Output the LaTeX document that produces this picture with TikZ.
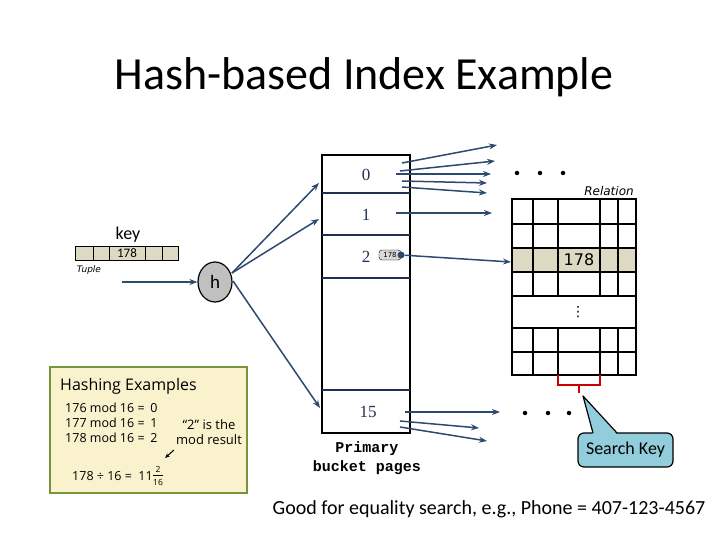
\documentclass[tikz,border=0pt]{standalone}
\usepackage{fontspec}
\setmainfont{Carlito}
\newfontfamily\serifnum{Liberation Serif}
\newfontfamily\monof{Liberation Mono}
\newfontfamily\verd{DejaVu Sans}
\newfontfamily\hashf{Open Sans}
\usetikzlibrary{arrows.meta,shapes.geometric}
\definecolor{arrowblue}{RGB}{44,74,112}
\definecolor{navy}{RGB}{31,48,80}
\definecolor{beige}{RGB}{221,217,195}
\definecolor{hgray}{RGB}{192,192,192}
\definecolor{hashfill}{RGB}{250,241,205}
\definecolor{hashborder}{RGB}{119,147,60}
\definecolor{callblue}{RGB}{146,205,220}
\definecolor{bracered}{RGB}{204,0,0}
\tikzset{
  arr/.style={draw=arrowblue, line width=1.5pt, -{Stealth[length=8pt,width=6pt]}},
  tbl/.style={draw=black, line width=1.5pt},
  bnum/.style={font=\serifnum\fontsize{17}{20}\selectfont, text=navy, inner sep=0pt},
  hline/.style={font=\hashf\fontsize{12.5}{15}\selectfont, inner sep=0pt},
  dotmark/.style={fill=black, circle, inner sep=0pt, minimum size=4.5pt}
}
\begin{document}
\begin{tikzpicture}[x=1pt,y=-1pt]
\useasboundingbox (0,0) rectangle (720,540);

% title
\node[font=\fontsize{46}{54}\selectfont, inner sep=0pt] (title) at (364,77) {Hash-based Index Example};

% bucket column
\draw[tbl] (322,155) rectangle (410,433);
\foreach \yy in {193,235,278,390} \draw[draw=navy, line width=1.5pt] (322,\yy) -- (410,\yy);
\node[bnum] (b0) at (366,175) {0};
\node[bnum] (b1) at (366,215) {1};
\node[bnum] (b2) at (366,257) {2};
\node[bnum] (b15) at (368,412) {15};
\node[font=\monof\bfseries\fontsize{15}{19}\selectfont, align=center, inner sep=0pt] (prim) at (367,458) {Primary\\bucket pages};

% tag 178
\node[draw=black, fill=hgray!60, rounded corners=3pt, inner sep=1pt, minimum width=22pt, minimum height=10pt, font=\verd\fontsize{7}{8}\selectfont] (tag) at (390,255) {178};
\node[circle, fill=arrowblue, inner sep=0pt, minimum size=7pt] (tagdot) at (401,255) {};

% arrows out of bucket 0,1,15
\coordinate (s1) at (402,163); \coordinate (e1) at (497,145);
\coordinate (s2) at (400,171); \coordinate (e2) at (495,161);
\coordinate (s3) at (396,174); \coordinate (e3) at (491,174);
\coordinate (s4) at (402,181); \coordinate (e4) at (487,183);
\coordinate (s5) at (402,187); \coordinate (e5) at (487,193);
\coordinate (s6) at (396,213); \coordinate (e6) at (492,213);
\coordinate (s7) at (405,412); \coordinate (e7) at (500,412);
\coordinate (s8) at (400,421); \coordinate (e8) at (479,428);
\coordinate (s9) at (400,427); \coordinate (e9) at (487,441);
\foreach \i in {1,...,9} \draw[arr] (s\i) -- (e\i);

% dots
\node[dotmark] (d1) at (517,173) {};
\node[dotmark] (d2) at (540,173) {};
\node[dotmark] (d3) at (563,173) {};
\node[dotmark] (d4) at (525,413) {};
\node[dotmark] (d5) at (548,413) {};
\node[dotmark] (d6) at (569,413) {};

% relation table
\node[font=\verd\itshape\fontsize{12}{14}\selectfont, inner sep=0pt] (rel) at (609,191) {Relation};
\fill[beige] (512,248) rectangle (636,272);
\draw[tbl] (512,199) rectangle (636,375);
\foreach \yy in {224,248,272,296,328,352} \draw[tbl] (512,\yy) -- (636,\yy);
\foreach \xx in {533,558,600,618} {
  \draw[tbl] (\xx,199) -- (\xx,296);
  \draw[tbl] (\xx,328) -- (\xx,375);
}
\node[font=\verd\fontsize{16}{18}\selectfont, inner sep=0pt] (r178) at (579,260) {178};
\node[font=\verd\fontsize{14}{16}\selectfont, inner sep=0pt] (vd) at (578,312) {⋮};
\coordinate (relrow) at (511,262);
\draw[arr] (tagdot) -- (relrow);

% red brace
\draw[draw=bracered, line width=2pt] (558,375) -- (558,385) -- (600,385) -- (600,375);
\draw[draw=bracered, line width=2pt] (579,385) -- (579,393);

% callout
\node[draw=black, line width=1.2pt, fill=callblue, rounded corners=6pt,
      minimum width=95pt, minimum height=34pt, font=\fontsize{18}{21}\selectfont] (sk) at (625.5,450) {Search Key};
\coordinate (tip) at (583,396);
\coordinate (pb1) at (593,433);
\coordinate (pb2) at (617,433);
\fill[callblue] ([yshift=-1.5pt]pb1) -- (tip) -- ([yshift=-1.5pt]pb2) -- cycle;
\draw[line width=1.2pt, line join=round] (pb1) -- (tip) -- (pb2);

% key tuple
\node[font=\fontsize{18}{20}\selectfont, inner sep=0pt] (key) at (128,235) {key};
\foreach \a/\b in {75/93,93/109,109/145,145/162,162/178}
  \draw[draw=black, line width=1pt, fill=beige] (\a,246) rectangle (\b,260);
\node[font=\fontsize{13}{14}\selectfont, inner sep=0pt] (t178) at (127,253) {178};
\node[font=\verd\itshape\fontsize{9}{11}\selectfont, inner sep=0pt] (tuple) at (89,270) {Tuple};

% h
\node[ellipse, draw=black, line width=1.2pt, fill=hgray, minimum width=34pt, minimum height=40pt, inner sep=0pt, font=\fontsize{19}{20}\selectfont] (h) at (215,282) {h};
\coordinate (tin) at (122,282);
\draw[arr] (tin) -- (h.west);
\coordinate (hs) at (232,273);
\coordinate (hs2) at (233,281);
\coordinate (in0) at (319,183);
\coordinate (in1) at (319,219);
\coordinate (in15) at (320,408);
\draw[arr] (hs) -- (in0);
\draw[arr] (hs) -- (in1);
\draw[arr] (hs2) -- (in15);

% hashing examples box
\draw[draw=hashborder, line width=1.5pt, fill=hashfill] (50,367) rectangle (247,493);
\node[font=\hashf\fontsize{16}{19}\selectfont, anchor=west, inner sep=0pt] (hx) at (60,386) {Hashing Examples};
\node[hline, anchor=west] (l1) at (65,408) {176 mod 16 =};
\node[hline] (v1) at (154,408) {0};
\node[hline, anchor=west] (l2) at (65,423) {177 mod 16 =};
\node[hline] (v2) at (154,423) {1};
\node[hline, anchor=west] (l3) at (65,438) {178 mod 16 =};
\node[hline] (v3) at (154,438) {2};
\node[font=\hashf\fontsize{13}{15}\selectfont, inner sep=0pt, align=center] (note) at (209,432) {“2” is the\\mod result};
\coordinate (na) at (174,450);
\coordinate (nb) at (165,458);
\draw[draw=black, line width=1pt, -{Stealth[length=5pt,width=4pt]}] (na) -- (nb);
\node[font=\hashf\fontsize{12.5}{16}\selectfont, inner sep=0pt, anchor=west] (div) at (72,476) {178 ÷ 16 =\ \ 11};
\node[font=\hashf\fontsize{8.5}{9}\selectfont, inner sep=0pt] (fn) at (158,469) {2};
\node[font=\hashf\fontsize{8.5}{9}\selectfont, inner sep=0pt] (fd) at (158,482) {16};
\draw[line width=0.6pt] (153,475.5) -- (163,475.5);

% bottom text
\node[font=\fontsize{20}{24}\selectfont, inner sep=0pt] (good) at (489,509) {Good for equality search, e.g., Phone = 407-123-4567};
\end{tikzpicture}
\end{document}
